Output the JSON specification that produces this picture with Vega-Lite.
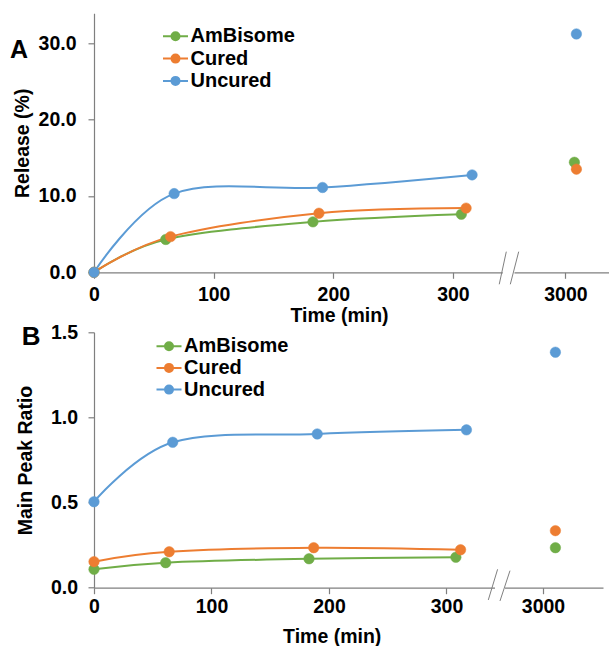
{
  "$schema": "https://vega.github.io/schema/vega-lite/v6.json",
  "padding": {"left": 10, "top": 13.3, "right": 0, "bottom": 0},
  "background": "white",
  "config": {
    "view": {"stroke": null},
    "font": "Liberation Sans",
    "axis": {
      "domainColor": "#7f7f7f", "tickColor": "#7f7f7f", "domainWidth": 1.2, "tickWidth": 1.2,
      "labelFont": "Liberation Sans", "labelFontSize": 19.5, "labelFontWeight": "bold", "labelColor": "#000000",
      "titleFont": "Liberation Sans", "titleFontSize": 19.5, "titleFontWeight": "bold", "titleColor": "#000000",
      "grid": false, "tickSize": 6, "labelFlush": false, "labelOverlap": false
    }
  },
  "datasets": {
    "relA": [
      {"series": "AmBisome", "time": 0, "value": 0, "part": "curve"},
      {"series": "AmBisome", "time": 60, "value": 4.3, "part": "curve"},
      {"series": "AmBisome", "time": 183, "value": 6.6, "part": "curve"},
      {"series": "AmBisome", "time": 307, "value": 7.6, "part": "curve"},
      {"series": "AmBisome", "time": 3045, "value": 14.4, "part": "late"},
      {"series": "Cured", "time": 0, "value": 0, "part": "curve"},
      {"series": "Cured", "time": 64, "value": 4.67, "part": "curve"},
      {"series": "Cured", "time": 188, "value": 7.73, "part": "curve"},
      {"series": "Cured", "time": 311, "value": 8.4, "part": "curve"},
      {"series": "Cured", "time": 3055, "value": 13.5, "part": "late"},
      {"series": "Uncured", "time": 0, "value": 0, "part": "curve"},
      {"series": "Uncured", "time": 67, "value": 10.3, "part": "curve"},
      {"series": "Uncured", "time": 191, "value": 11.1, "part": "curve"},
      {"series": "Uncured", "time": 316, "value": 12.75, "part": "curve"},
      {"series": "Uncured", "time": 3055, "value": 31.2, "part": "late"}
    ],
    "relB": [
      {"series": "AmBisome", "time": 0, "value": 0.108, "part": "curve"},
      {"series": "AmBisome", "time": 61, "value": 0.147, "part": "curve"},
      {"series": "AmBisome", "time": 183, "value": 0.17, "part": "curve"},
      {"series": "AmBisome", "time": 308, "value": 0.179, "part": "curve"},
      {"series": "AmBisome", "time": 3062, "value": 0.235, "part": "late"},
      {"series": "Cured", "time": 0, "value": 0.153, "part": "curve"},
      {"series": "Cured", "time": 64, "value": 0.211, "part": "curve"},
      {"series": "Cured", "time": 187, "value": 0.235, "part": "curve"},
      {"series": "Cured", "time": 312, "value": 0.223, "part": "curve"},
      {"series": "Cured", "time": 3062, "value": 0.335, "part": "late"},
      {"series": "Uncured", "time": 0, "value": 0.505, "part": "curve"},
      {"series": "Uncured", "time": 67, "value": 0.854, "part": "curve"},
      {"series": "Uncured", "time": 190, "value": 0.903, "part": "curve"},
      {"series": "Uncured", "time": 317, "value": 0.927, "part": "curve"},
      {"series": "Uncured", "time": 3062, "value": 1.383, "part": "late"}
    ],
    "gapA": [{"time": 489, "time2": 2655, "value": -0.25, "value2": 0.25}],
    "slashA": [
      {"time": 338.7, "time2": 1137, "value": -1.57, "value2": 2.7},
      {"time": 1878, "time2": 2766.5, "value": -1.57, "value2": 2.7}
    ],
    "gapB": [{"time": 341.3, "time2": 2810, "value": -0.012, "value2": 0.012}],
    "slashB": [
      {"time": 335.6, "time2": 528, "value": -0.072, "value2": 0.108},
      {"time": 1268, "time2": 2835, "value": -0.078, "value2": 0.1}
    ]
  },
  "spacing": 60,
  "bounds": "flush",
  "resolve": {"scale": {"fill": "independent", "stroke": "independent"}},
  "vconcat": [
    {
      "width": 515,
      "height": 259,
      "title": {"text": "A", "anchor": "start", "frame": "group", "orient": "top", "offset": 0, "baseline": "alphabetic", "fontSize": 25, "fontWeight": "bold", "font": "Liberation Sans", "color": "#000000", "dx": -84, "dy": 70},
      "layer": [
        {
          "data": {"name": "relA"},
          "transform": [{"filter": {"field": "part", "equal": "curve"}}],
          "mark": {"type": "line", "interpolate": "cardinal", "strokeWidth": 2},
          "encoding": {
            "x": {"field": "time", "type": "quantitative",
              "scale": {"domain": [0, 341, 2748, 3218], "range": [0, 408, 421, 515], "nice": false, "zero": false},
              "axis": {"values": [0, 100, 200, 300, 3000], "format": "d", "labelPadding": 7.3, "titlePadding": 2, "title": "Time (min)", "titleX": 245}},
            "y": {"field": "value", "type": "quantitative",
              "scale": {"domain": [0, 33.9], "nice": false},
              "axis": {"values": [0, 10, 20, 30], "format": ".1f", "labelPadding": 12, "titlePadding": 6, "title": "Release (%)"}},
            "stroke": {"field": "series", "type": "nominal",
              "scale": {"domain": ["AmBisome", "Cured", "Uncured"], "range": ["#70AD47", "#ED7D31", "#5B9BD5"]},
              "legend": {"orient": "none", "legendX": 70.5, "legendY": 12, "title": null, "labelFont": "Liberation Sans", "labelFontSize": 20, "labelFontWeight": "bold", "labelColor": "#000000", "symbolType": "M-1.25,0L1.25,0M-0.4,0A0.4,0.4,0,1,1,0.4,0A0.4,0.4,0,1,1,-0.4,0Z", "symbolSize": 400, "symbolStrokeWidth": 2, "rowPadding": 1.3, "labelOffset": 4, "padding": 0}}
          }
        },
        {
          "data": {"name": "relA"},
          "mark": {"type": "point", "filled": true, "size": 110, "opacity": 1, "strokeWidth": 0.5},
          "encoding": {
            "x": {"field": "time", "type": "quantitative", "scale": {"domain": [0, 341, 2748, 3218], "range": [0, 408, 421, 515], "nice": false, "zero": false}},
            "y": {"field": "value", "type": "quantitative", "scale": {"domain": [0, 33.9], "nice": false}},
            "fill": {"field": "series", "type": "nominal",
              "scale": {"domain": ["AmBisome", "Cured", "Uncured"], "range": ["#70AD47", "#ED7D31", "#5B9BD5"]},
              "legend": {"orient": "none", "legendX": 70.5, "legendY": 12, "title": null, "labelFont": "Liberation Sans", "labelFontSize": 20, "labelFontWeight": "bold", "labelColor": "#000000", "symbolType": "M-1.25,0L1.25,0M-0.4,0A0.4,0.4,0,1,1,0.4,0A0.4,0.4,0,1,1,-0.4,0Z", "symbolSize": 400, "symbolStrokeWidth": 2, "rowPadding": 1.3, "labelOffset": 4, "padding": 0}},
            "stroke": {"field": "series", "type": "nominal",
              "scale": {"domain": ["AmBisome", "Cured", "Uncured"], "range": ["#70AD47", "#ED7D31", "#5B9BD5"]}}
          }
        },
        {
          "data": {"name": "gapA"},
          "mark": {"type": "rect", "color": "white"},
          "encoding": {
            "x": {"field": "time", "type": "quantitative", "scale": {"domain": [0, 341, 2748, 3218], "range": [0, 408, 421, 515], "nice": false, "zero": false}},
            "x2": {"field": "time2"},
            "y": {"field": "value", "type": "quantitative", "scale": {"domain": [0, 33.9], "nice": false}},
            "y2": {"field": "value2"}
          }
        },
        {
          "data": {"name": "slashA"},
          "mark": {"type": "rule", "color": "#7f7f7f", "strokeWidth": 1},
          "encoding": {
            "x": {"field": "time", "type": "quantitative", "scale": {"domain": [0, 341, 2748, 3218], "range": [0, 408, 421, 515], "nice": false, "zero": false}},
            "x2": {"field": "time2"},
            "y": {"field": "value", "type": "quantitative", "scale": {"domain": [0, 33.9], "nice": false}},
            "y2": {"field": "value2"}
          }
        }
      ]
    },
    {
      "width": 509,
      "height": 255.4,
      "title": {"text": "B", "anchor": "start", "frame": "group", "orient": "top", "offset": 0, "baseline": "alphabetic", "fontSize": 26, "fontWeight": "bold", "font": "Liberation Sans", "color": "#000000", "dx": -72.3, "dy": 49},
      "layer": [
        {
          "data": {"name": "relB"},
          "transform": [{"filter": {"field": "part", "equal": "curve"}}],
          "mark": {"type": "line", "interpolate": "cardinal", "strokeWidth": 2},
          "encoding": {
            "x": {"field": "time", "type": "quantitative",
              "scale": {"domain": [0, 343, 2810, 3300], "range": [0, 403, 411, 509], "nice": false, "zero": false},
              "axis": {"values": [0, 100, 200, 300, 3000], "format": "d", "labelPadding": 4.2, "titlePadding": 11, "title": "Time (min)", "titleX": 237.7}},
            "y": {"field": "value", "type": "quantitative",
              "scale": {"domain": [0, 1.5], "nice": false},
              "axis": {"values": [0, 0.5, 1, 1.5], "format": ".1f", "labelPadding": 10.5, "titlePadding": 14.8, "title": "Main Peak Ratio"}},
            "stroke": {"field": "series", "type": "nominal",
              "scale": {"domain": ["AmBisome", "Cured", "Uncured"], "range": ["#70AD47", "#ED7D31", "#5B9BD5"]},
              "legend": {"orient": "none", "legendX": 64, "legendY": 2.9, "title": null, "labelFont": "Liberation Sans", "labelFontSize": 20, "labelFontWeight": "bold", "labelColor": "#000000", "symbolType": "M-1.25,0L1.25,0M-0.4,0A0.4,0.4,0,1,1,0.4,0A0.4,0.4,0,1,1,-0.4,0Z", "symbolSize": 400, "symbolStrokeWidth": 2, "rowPadding": 0.7, "labelOffset": 4, "padding": 0}}
          }
        },
        {
          "data": {"name": "relB"},
          "mark": {"type": "point", "filled": true, "size": 110, "opacity": 1, "strokeWidth": 0.5},
          "encoding": {
            "x": {"field": "time", "type": "quantitative", "scale": {"domain": [0, 343, 2810, 3300], "range": [0, 403, 411, 509], "nice": false, "zero": false}},
            "y": {"field": "value", "type": "quantitative", "scale": {"domain": [0, 1.5], "nice": false}},
            "fill": {"field": "series", "type": "nominal",
              "scale": {"domain": ["AmBisome", "Cured", "Uncured"], "range": ["#70AD47", "#ED7D31", "#5B9BD5"]},
              "legend": {"orient": "none", "legendX": 64, "legendY": 2.9, "title": null, "labelFont": "Liberation Sans", "labelFontSize": 20, "labelFontWeight": "bold", "labelColor": "#000000", "symbolType": "M-1.25,0L1.25,0M-0.4,0A0.4,0.4,0,1,1,0.4,0A0.4,0.4,0,1,1,-0.4,0Z", "symbolSize": 400, "symbolStrokeWidth": 2, "rowPadding": 0.7, "labelOffset": 4, "padding": 0}},
            "stroke": {"field": "series", "type": "nominal",
              "scale": {"domain": ["AmBisome", "Cured", "Uncured"], "range": ["#70AD47", "#ED7D31", "#5B9BD5"]}}
          }
        },
        {
          "data": {"name": "gapB"},
          "mark": {"type": "rect", "color": "white"},
          "encoding": {
            "x": {"field": "time", "type": "quantitative", "scale": {"domain": [0, 343, 2810, 3300], "range": [0, 403, 411, 509], "nice": false, "zero": false}},
            "x2": {"field": "time2"},
            "y": {"field": "value", "type": "quantitative", "scale": {"domain": [0, 1.5], "nice": false}},
            "y2": {"field": "value2"}
          }
        },
        {
          "data": {"name": "slashB"},
          "mark": {"type": "rule", "color": "#7f7f7f", "strokeWidth": 1},
          "encoding": {
            "x": {"field": "time", "type": "quantitative", "scale": {"domain": [0, 343, 2810, 3300], "range": [0, 403, 411, 509], "nice": false, "zero": false}},
            "x2": {"field": "time2"},
            "y": {"field": "value", "type": "quantitative", "scale": {"domain": [0, 1.5], "nice": false}},
            "y2": {"field": "value2"}
          }
        }
      ]
    }
  ]
}
